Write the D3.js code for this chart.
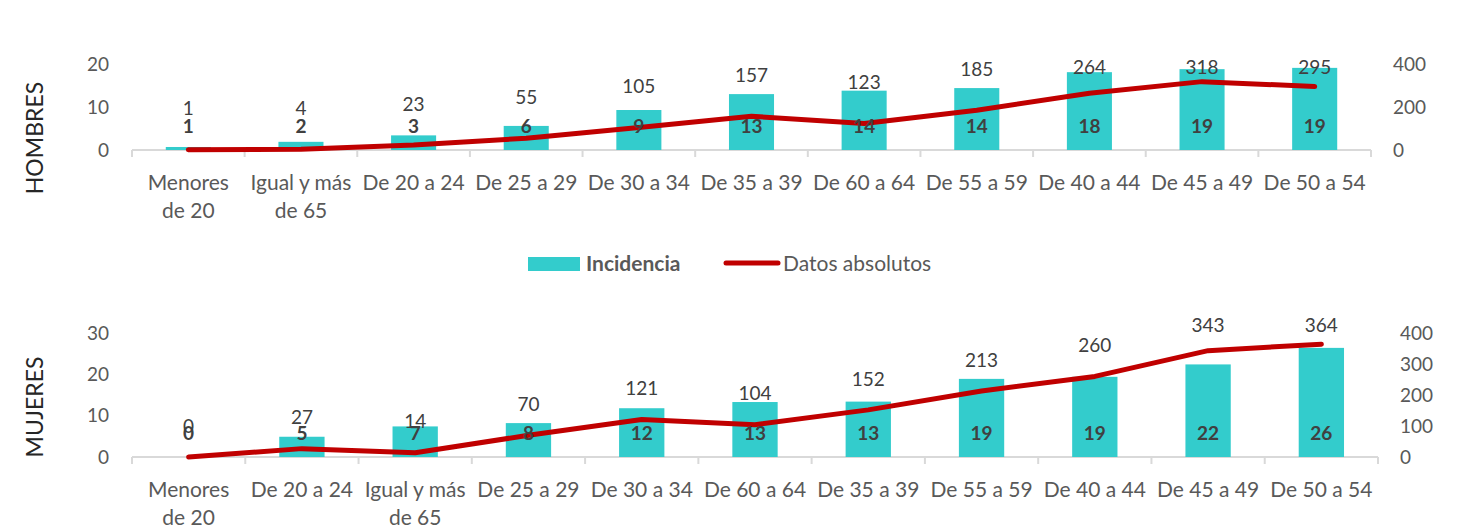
<!DOCTYPE html>
<html>
<head>
<meta charset="utf-8">
<script src="https://cdn.jsdelivr.net/npm/d3@7"></script>
<style>
  body { margin: 0; background: #fff; }
  text { font-family: Lato, "Open Sans", sans-serif; fill: #595959; }
</style>
</head>
<body>
<div id="chart"></div>
<script>
// hombres
var categoriasH = ["Menores de 20", "Igual y más de 65", "De 20 a 24", "De 25 a 29", "De 30 a 34", "De 35 a 39", "De 60 a 64", "De 55 a 59", "De 40 a 44", "De 45 a 49", "De 50 a 54"];
var incidenciaH = [0.7, 1.9, 3.4, 5.6, 9.3, 13.0, 13.8, 14.4, 18.1, 18.8, 19.1];
var absolutosH = [1, 4, 23, 55, 105, 157, 123, 185, 264, 318, 295];
var ticksIzqH = [0, 10, 20];
var ticksDerH = [0, 200, 400];

// mujeres
var categoriasM = ["Menores de 20", "De 20 a 24", "Igual y más de 65", "De 25 a 29", "De 30 a 34", "De 60 a 64", "De 35 a 39", "De 55 a 59", "De 40 a 44", "De 45 a 49", "De 50 a 54"];
var incidenciaM = [0, 4.9, 7.4, 8.2, 11.8, 13.3, 13.4, 18.9, 19.4, 22.4, 26.4];
var absolutosM = [0, 27, 14, 70, 121, 104, 152, 213, 260, 343, 364];
var ticksIzqM = [0, 10, 20, 30];
var ticksDerM = [0, 100, 200, 300, 400];

var svgWidth = 1463;
var svgHeight = 528;
var barColor = "#33CCCC";
var lineColor = "#C00000";

var svg = d3.select("#chart").append("svg")
  .attr("width", svgWidth)
  .attr("height", svgHeight);

// labels that don't fit the band: last two words go to a second line
function wrap(text, width) {
  text.each(function() {
    var t = d3.select(this);
    var full = t.text();
    if (t.node().getComputedTextLength() <= width) return;
    var words = full.split(/\s+/);
    var x = t.attr("x"), y = t.attr("y");
    t.text(null);
    t.append("tspan").attr("x", x).attr("y", y).text(words.slice(0, -2).join(" "));
    t.append("tspan").attr("x", x).attr("y", +y + 28).text(words.slice(-2).join(" "));
  });
}

function panel(cfg) {
  var x = d3.scaleBand().domain(cfg.cats).range([cfg.x0, cfg.x1]);
  var yL = d3.scaleLinear().domain([0, cfg.maxL]).range([cfg.base, cfg.top]);
  var yR = d3.scaleLinear().domain([0, 400]).range([cfg.base, cfg.top]);
  var g = svg.append("g");
  var fmt = d3.format(".0f");

  // axis line + tick marks at band edges
  g.append("line")
    .attr("x1", cfg.x0).attr("x2", cfg.x1)
    .attr("y1", cfg.base).attr("y2", cfg.base)
    .attr("stroke", "#D9D9D9").attr("stroke-width", 2);
  var edges = cfg.cats.map(function(c) { return x(c); }).concat([cfg.x1]);
  g.selectAll(".tk").data(edges).enter().append("line")
    .attr("x1", function(d) { return d; }).attr("x2", function(d) { return d; })
    .attr("y1", cfg.base).attr("y2", cfg.base + 7)
    .attr("stroke", "#D9D9D9").attr("stroke-width", 2);

  // y tick labels
  g.selectAll(".tl").data(cfg.ticksL).enter().append("text")
    .attr("x", 109).attr("y", function(d) { return yL(d); })
    .attr("dy", "0.35em").attr("text-anchor", "end")
    .style("font-size", "19px").text(function(d) { return d; });
  g.selectAll(".tr").data(cfg.ticksR).enter().append("text")
    .attr("x", 1393 + cfg.rShift).attr("y", function(d) { return yR(d); })
    .attr("dy", "0.35em").attr("text-anchor", "start")
    .style("font-size", "19px").text(function(d) { return d; });

  // bars
  var bw = x.bandwidth() * 0.4;
  g.selectAll(".bar").data(cfg.inc).enter().append("rect")
    .attr("x", function(d, i) { return x(cfg.cats[i]) + (x.bandwidth() - bw) / 2; })
    .attr("y", function(d) { return yL(d); })
    .attr("width", bw)
    .attr("height", function(d) { return cfg.base - yL(d); })
    .attr("fill", barColor);

  // line
  var line = d3.line()
    .x(function(d, i) { return x(cfg.cats[i]) + x.bandwidth() / 2; })
    .y(function(d) { return yR(d); });
  g.append("path").datum(cfg.abs)
    .attr("d", line)
    .attr("fill", "none")
    .attr("stroke", lineColor)
    .attr("stroke-width", 5)
    .attr("stroke-linecap", "round")
    .attr("stroke-linejoin", "round");

  // incidencia labels
  g.selectAll(".il").data(cfg.inc).enter().append("text")
    .attr("x", function(d, i) { return x(cfg.cats[i]) + x.bandwidth() / 2; })
    .attr("y", cfg.base - 24)
    .attr("dy", "0.35em").attr("text-anchor", "middle")
    .style("font-size", "19px").style("font-weight", "bold").style("fill", "#404040")
    .text(function(d) { return fmt(d); });

  // absolutos labels
  g.selectAll(".al").data(cfg.abs).enter().append("text")
    .attr("x", function(d, i) { return x(cfg.cats[i]) + x.bandwidth() / 2; })
    .attr("y", function(d) { return Math.max(yR(d) - cfg.off, cfg.clamp); })
    .attr("dy", "0.35em").attr("text-anchor", "middle")
    .style("font-size", "19px").style("fill", "#404040")
    .text(function(d) { return d; });

  // category labels
  g.selectAll(".cl").data(cfg.cats).enter().append("text")
    .attr("x", function(d) { return x(d) + x.bandwidth() / 2; })
    .attr("y", cfg.base + 40)
    .attr("text-anchor", "middle")
    .style("font-size", "21px")
    .text(function(d) { return d; })
    .call(wrap, x.bandwidth());

  // side title
  g.append("text")
    .attr("transform", "translate(43," + cfg.titleY + ") rotate(-90)")
    .attr("text-anchor", "middle")
    .style("font-size", "23px").style("fill", "#262626")
    .text(cfg.title);
}

panel({cats: categoriasH, inc: incidenciaH, abs: absolutosH, ticksL: ticksIzqH, ticksR: ticksDerH,
  maxL: 20, x0: 132, x1: 1371, base: 150, top: 64, off: 41, clamp: 67, rShift: 0, title: "HOMBRES", titleY: 138});
panel({cats: categoriasM, inc: incidenciaM, abs: absolutosM, ticksL: ticksIzqM, ticksR: ticksDerM,
  maxL: 30, x0: 132, x1: 1378, base: 457, top: 333, off: 31, clamp: 325, rShift: 7, title: "MUJERES", titleY: 407});

// legend
var legend = svg.append("g");
legend.append("rect").attr("x", 528).attr("y", 257).attr("width", 52).attr("height", 14).attr("fill", barColor);
legend.append("text").attr("x", 586).attr("y", 264).attr("dy", "0.35em")
  .style("font-size", "21px").style("font-weight", "bold").text("Incidencia");
legend.append("line").attr("x1", 726).attr("x2", 778).attr("y1", 263).attr("y2", 263)
  .attr("stroke", lineColor).attr("stroke-width", 5).attr("stroke-linecap", "round");
legend.append("text").attr("x", 783).attr("y", 264).attr("dy", "0.35em")
  .style("font-size", "21px").text("Datos absolutos");
</script>
</body>
</html>
